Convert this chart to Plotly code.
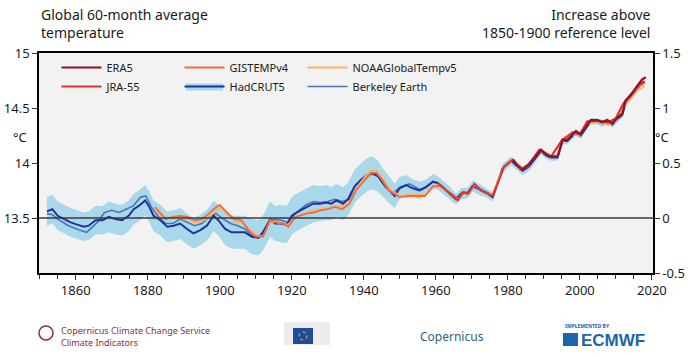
import plotly.graph_objects as go

# ---------------- data (anomaly vs 1850-1900, degC) ----------------
hadcrut_years = [1852, 1853.5, 1855, 1856.7, 1858.6, 1860.4, 1862.3, 1863.6, 1865.5, 1867.4,
                 1869.2, 1871, 1872.9, 1874.7, 1876.1, 1877.5, 1879.3, 1880.3, 1881.6, 1883.5,
                 1885.4, 1887.2, 1889, 1890.9, 1892.7, 1894.6, 1896.4, 1898.3, 1899.6, 1901.5,
                 1903.3, 1905.2, 1907, 1908.9, 1910.7, 1912.1, 1914, 1915.3, 1916.7, 1918.6,
                 1920, 1921.3, 1924.1, 1925.9, 1927.8, 1929.6, 1931, 1932.4, 1934.2, 1935.6,
                 1937.5, 1939.3, 1941.2, 1942.5, 1943.9, 1945.3, 1947.2, 1948.6, 1949.9, 1951.8,
                 1953.6, 1955.5, 1957.3, 1959.2, 1960.5, 1961.9, 1963.8, 1965.6, 1967, 1968.9,
                 1970.2, 1972.1, 1973.9, 1975.8, 1977.2, 1978.5, 1980.9, 1982.3, 1984.1, 1985.9,
                 1987.8, 1989.2, 1990.6, 1991.9, 1993.8, 1995.2, 1996.5, 1997.9, 1998.9, 2000.2,
                 2001.6, 2003, 2004.8, 2006.2, 2007.6, 2009, 2010.4, 2011.8, 2012.7, 2014.5,
                 2015.9, 2017.3, 2018]
hadcrut_vals = [0.06, 0.08, 0.02, -0.01, -0.04, -0.06, -0.08, -0.07, -0.02, -0.02,
                0.01, -0.01, -0.02, 0.02, 0.08, 0.11, 0.16, 0.11, 0.02, -0.02,
                -0.08, -0.07, -0.05, -0.10, -0.14, -0.11, -0.07, 0.02, -0.02, -0.10,
                -0.13, -0.13, -0.13, -0.17, -0.18, -0.13, -0.01, -0.05, -0.05, -0.06,
                0.02, 0.05, 0.10, 0.13, 0.13, 0.14, 0.13, 0.16, 0.13, 0.17,
                0.29, 0.35, 0.40, 0.41, 0.38, 0.32, 0.25, 0.20, 0.27, 0.30,
                0.27, 0.25, 0.28, 0.33, 0.32, 0.28, 0.23, 0.17, 0.22, 0.23,
                0.29, 0.26, 0.23, 0.19, 0.32, 0.45, 0.52, 0.48, 0.43, 0.47,
                0.55, 0.61, 0.57, 0.55, 0.55, 0.70, 0.70, 0.75, 0.78, 0.75,
                0.82, 0.88, 0.88, 0.86, 0.88, 0.85, 0.90, 0.94, 1.05, 1.11,
                1.18, 1.23, 1.24]
hadcrut_unc = [0.13, 0.13, 0.13, 0.13, 0.13, 0.13, 0.13, 0.13, 0.13, 0.13,
               0.14, 0.14, 0.14, 0.14, 0.14, 0.14, 0.14, 0.14, 0.14, 0.14,
               0.14, 0.14, 0.14, 0.14, 0.14, 0.14, 0.14, 0.14, 0.14, 0.15,
               0.15, 0.15, 0.15, 0.16, 0.16, 0.16, 0.16, 0.16, 0.17, 0.17,
               0.17, 0.17, 0.17, 0.17, 0.16, 0.16, 0.15, 0.15, 0.15, 0.15,
               0.15, 0.15, 0.15, 0.15, 0.14, 0.13, 0.12, 0.11, 0.10, 0.09,
               0.08, 0.08, 0.07, 0.07, 0.06, 0.06, 0.06, 0.05, 0.05, 0.05,
               0.05, 0.05, 0.04, 0.04, 0.04, 0.04, 0.04, 0.04, 0.04, 0.04,
               0.03, 0.03, 0.03, 0.03, 0.03, 0.03, 0.03, 0.03, 0.03, 0.03,
               0.03, 0.03, 0.03, 0.03, 0.03, 0.03, 0.03, 0.03, 0.03, 0.03,
               0.03, 0.03, 0.03]

berkeley_years = [1852, 1853.5, 1855, 1858, 1861, 1863, 1866, 1868, 1870, 1872,
                  1874, 1876, 1878, 1879.5, 1881, 1883, 1885, 1887, 1889, 1891,
                  1893, 1895, 1897, 1899, 1901, 1903, 1905, 1907, 1909, 1911,
                  1913, 1915, 1917, 1919, 1921, 1924, 1926, 1928, 1930, 1932,
                  1934, 1936, 1938, 1940, 1942, 1944, 1946, 1948, 1950, 1952.7,
                  1955.5, 1957, 1959.2, 1961, 1963, 1966.1, 1967.5, 1969, 1970.7, 1972.5,
                  1974.4, 1975.8, 1977.6, 1979, 1981.3, 1983.6, 1985.5, 1988.7, 1990.6, 1992,
                  1995, 1998, 2000, 2002, 2005, 2008, 2010, 2012, 2014, 2016, 2018]
berkeley_vals = [0.04, 0.03, -0.01, -0.07, -0.11, -0.13, -0.04, 0.05, 0.07, 0.05,
                 0.08, 0.11, 0.19, 0.20, 0.10, 0.01, -0.05, -0.05, -0.01, -0.04,
                 -0.07, -0.05, 0.01, 0.04, -0.01, -0.05, -0.07, -0.10, -0.16, -0.17,
                 -0.07, -0.01, -0.02, -0.04, 0.04, 0.12, 0.15, 0.14, 0.15, 0.17,
                 0.15, 0.17, 0.27, 0.35, 0.40, 0.38, 0.28, 0.22, 0.28, 0.31,
                 0.26, 0.28, 0.33, 0.31, 0.25, 0.18, 0.24, 0.23, 0.31, 0.26,
                 0.23, 0.21, 0.35, 0.47, 0.53, 0.45, 0.48, 0.62, 0.59, 0.56,
                 0.70, 0.78, 0.77, 0.86, 0.89, 0.87, 0.91, 1.02, 1.12, 1.20, 1.24]

gistemp_years = [1882, 1883.5, 1885, 1887, 1889, 1891, 1893, 1895, 1897, 1899,
                 1900, 1902, 1904, 1906, 1908, 1910, 1912, 1914, 1916, 1918,
                 1919, 1921, 1924, 1926, 1928, 1930, 1932, 1934, 1936, 1938,
                 1940, 1942, 1943.5, 1945, 1947, 1949.9, 1952.7, 1955.5, 1957, 1959.2,
                 1961, 1963, 1966.1, 1967.5, 1969, 1970.7, 1972.5, 1974.4, 1975.8, 1977.6,
                 1979, 1981.3, 1983.6, 1985.5, 1988.7, 1990.6, 1992, 1995, 1998, 2000,
                 2002, 2005, 2008, 2010, 2012, 2014, 2016, 2018]
gistemp_vals = [0.10, 0.04, -0.01, 0.01, 0.02, 0.01, -0.02, -0.01, 0.04, 0.10,
                0.12, 0.05, -0.01, -0.02, -0.11, -0.17, -0.17, -0.02, -0.04, -0.05,
                -0.08, 0.01, 0.04, 0.05, 0.07, 0.08, 0.10, 0.08, 0.13, 0.26,
                0.34, 0.41, 0.41, 0.35, 0.25, 0.19, 0.20, 0.20, 0.20, 0.29,
                0.29, 0.25, 0.17, 0.23, 0.22, 0.30, 0.25, 0.22, 0.21, 0.36,
                0.47, 0.53, 0.45, 0.47, 0.62, 0.59, 0.56, 0.70, 0.77, 0.76,
                0.87, 0.88, 0.86, 0.90, 1.03, 1.11, 1.19, 1.23]

noaa_years = gistemp_years
noaa_vals = [0.07, 0.03, 0.00, 0.00, 0.00, -0.01, -0.04, -0.03, 0.01, 0.07,
             0.10, 0.04, -0.03, -0.04, -0.10, -0.15, -0.17, -0.03, -0.04, -0.05,
             -0.06, 0.01, 0.05, 0.07, 0.08, 0.09, 0.11, 0.10, 0.14, 0.27,
             0.36, 0.43, 0.43, 0.37, 0.27, 0.20, 0.21, 0.21, 0.21, 0.29,
             0.29, 0.25, 0.17, 0.22, 0.22, 0.30, 0.25, 0.22, 0.22, 0.37,
             0.47, 0.53, 0.46, 0.47, 0.61, 0.59, 0.56, 0.69, 0.76, 0.75,
             0.86, 0.87, 0.85, 0.88, 1.00, 1.08, 1.16, 1.20]

jra55_years = [1960.5, 1962.9, 1964.5, 1966.1, 1967.5, 1968.9, 1970.7, 1972.5, 1974.4, 1975.8,
               1977.6, 1979, 1981.3, 1983.6, 1985.5, 1988.7, 1990.6, 1992, 1995, 1998,
               2000, 2002, 2005, 2008, 2010, 2012, 2014, 2016, 2018]
jra55_vals = [0.32, 0.25, 0.21, 0.16, 0.23, 0.22, 0.31, 0.25, 0.22, 0.20,
              0.35, 0.47, 0.53, 0.44, 0.47, 0.62, 0.58, 0.56, 0.71, 0.78,
              0.76, 0.88, 0.88, 0.87, 0.91, 1.04, 1.12, 1.20, 1.24]

era5_years = [1981.5, 1982.3, 1984.1, 1985.9, 1987.8, 1989.2, 1990.6, 1991.9, 1993.8, 1995.2,
              1996.5, 1997.9, 1998.9, 2000.2, 2001.6, 2003, 2004.8, 2006.2, 2007.6, 2009,
              2010.4, 2011.8, 2012.7, 2014.5, 2015.9, 2017.3, 2018.3]
era5_vals = [0.53, 0.49, 0.44, 0.49, 0.56, 0.62, 0.58, 0.56, 0.56, 0.71,
             0.71, 0.76, 0.79, 0.76, 0.83, 0.89, 0.89, 0.87, 0.89, 0.86,
             0.91, 0.95, 1.07, 1.13, 1.20, 1.26, 1.28]

# tick labels
left_tickvals = [0, 0.5, 1, 1.5]
left_ticktext = ["13.5", "14", "14.5", "15"]
right_tickvals = [-0.5, 0, 0.5, 1, 1.5]
right_ticktext = ["-0.5", "0", "0.5", "1", "1.5"]

FONT = "Noto Sans"
TXT = "#1a1a1a"
C_ERA5 = "#8E1428"
C_JRA = "#E3302A"
C_GIS = "#F26B3A"
C_NOAA = "#FDB163"
C_HAD = "#24309A"
C_BAND = "#A9D8EB"
C_BE = "#4A74BA"

upper = [v + u for v, u in zip(hadcrut_vals, hadcrut_unc)]
lower = [v - u for v, u in zip(hadcrut_vals, hadcrut_unc)]

fig = go.Figure()
fig.add_trace(go.Scatter(x=hadcrut_years, y=upper, mode="lines", line=dict(width=0, color=C_BAND),
                         showlegend=False, hoverinfo="skip"))
fig.add_trace(go.Scatter(x=hadcrut_years, y=lower, mode="lines", line=dict(width=0, color=C_BAND),
                         fill="tonexty", fillcolor=C_BAND, showlegend=False, hoverinfo="skip"))

fig.add_trace(go.Scatter(x=berkeley_years, y=berkeley_vals, mode="lines", name="Berkeley Earth",
                         line=dict(color=C_BE, width=1.6), legend="legend3"))
fig.add_trace(go.Scatter(x=hadcrut_years, y=hadcrut_vals, mode="lines", name="HadCRUT5",
                         line=dict(color=C_HAD, width=2), legend="legend2"))
fig.add_trace(go.Scatter(x=noaa_years, y=noaa_vals, mode="lines", name="NOAAGlobalTempv5",
                         line=dict(color=C_NOAA, width=1.8), legend="legend3"))
fig.add_trace(go.Scatter(x=gistemp_years, y=gistemp_vals, mode="lines", name="GISTEMPv4",
                         line=dict(color=C_GIS, width=1.8), legend="legend2"))
fig.add_trace(go.Scatter(x=jra55_years, y=jra55_vals, mode="lines", name="JRA-55",
                         line=dict(color=C_JRA, width=1.8), legend="legend"))
fig.add_trace(go.Scatter(x=era5_years, y=era5_vals, mode="lines", name="ERA5",
                         line=dict(color=C_ERA5, width=2.2), legend="legend"))
# invisible trace so the right-hand axis is rendered
fig.add_trace(go.Scatter(x=hadcrut_years, y=hadcrut_vals, yaxis="y2", mode="lines",
                         opacity=0, showlegend=False, hoverinfo="skip"))


def px(x):
    return (x - 39) / 614


def py(y):
    return (273 - y) / 220


axis_font = dict(family=FONT, size=13, color=TXT)
legend_common = dict(orientation="v", xanchor="left", yanchor="top", y=py(53),
                     bgcolor="rgba(0,0,0,0)", font=dict(family=FONT, size=11, color=TXT),
                     traceorder="reversed", itemwidth=40)
fig.update_layout(
    width=690, height=358, autosize=False,
    margin=dict(l=39, r=37, t=53, b=85, autoexpand=False),
    paper_bgcolor="white", plot_bgcolor="#F2F2F2",
    font=dict(family=FONT, color=TXT),
    xaxis=dict(range=[1849.8, 2020.3], showgrid=False, zeroline=False, automargin=False,
               showline=True, linecolor="black", linewidth=1.5, mirror=True,
               ticks="outside", ticklen=5, tickcolor="#333", tick0=1860, dtick=20,
               tickfont=axis_font,
               minor=dict(ticks="outside", dtick=5, tick0=1850, ticklen=4, tickcolor="#333")),
    yaxis=dict(range=[-0.5, 1.5], showgrid=False, zeroline=False, automargin=False,
               showline=True, linecolor="black", linewidth=1.5,
               ticks="outside", ticklen=5, tickcolor="#333",
               tickvals=left_tickvals, ticktext=left_ticktext, tickfont=axis_font),
    yaxis2=dict(range=[-0.5, 1.5], overlaying="y", side="right", showgrid=False, zeroline=False,
                automargin=False,
                showline=True, linecolor="black", linewidth=1.5,
                ticks="outside", ticklen=5, tickcolor="#333",
                tickvals=right_tickvals, ticktext=right_ticktext, tickfont=axis_font),
    legend=dict(x=px(56.5), **legend_common),
    legend2=dict(x=px(179.5), **legend_common),
    legend3=dict(x=px(302.5), **legend_common),
    showlegend=True,
)

# light-blue swatch behind the HadCRUT5 legend line (uncertainty band)
fig.add_shape(type="rect", xref="paper", yref="paper", x0=px(186), x1=px(223), y0=py(90.5), y1=py(83.5),
              line=dict(width=0), fillcolor=C_BAND, layer="below")

# zero reference line
fig.add_shape(type="line", xref="paper", x0=0, x1=1, yref="y", y0=0, y1=0,
              line=dict(color="#3a3a3a", width=1.5), layer="above")

# titles
fig.add_annotation(xref="paper", yref="paper", x=0, y=1.225, xanchor="left", yanchor="top",
                   align="left", showarrow=False,
                   text="Global 60-month average<br>temperature",
                   font=dict(family=FONT, size=14, color=TXT))
fig.add_annotation(xref="paper", yref="paper", x=1, y=1.225, xanchor="right", yanchor="top",
                   align="right", showarrow=False,
                   text="Increase above<br>1850-1900 reference level",
                   font=dict(family=FONT, size=14, color=TXT))
fig.add_annotation(xref="paper", yref="paper", x=-0.045, y=0.62, showarrow=False,
                   text="°C", font=dict(family=FONT, size=13, color=TXT))
fig.add_annotation(xref="paper", yref="paper", x=1.03, y=0.62, showarrow=False,
                   text="°C", font=dict(family=FONT, size=13, color=TXT))

# ---- footer logos (approximate) ----
# C3S
fig.add_shape(type="circle", xref="paper", yref="paper", x0=px(39), x1=px(53), y0=py(340), y1=py(326),
              line=dict(color="#8E2C48", width=1.5))
fig.add_annotation(xref="paper", yref="paper", x=px(59), y=py(336), xanchor="left", yanchor="middle",
                   align="left", showarrow=False,
                   text="Copernicus Climate Change Service<br>Climate Indicators",
                   font=dict(family=FONT, size=9, color="#8E2C48"))
# EU
fig.add_shape(type="rect", xref="paper", yref="paper", x0=px(284), x1=px(330), y0=py(345), y1=py(322),
              line=dict(width=0), fillcolor="#ECECEC")
fig.add_shape(type="rect", xref="paper", yref="paper", x0=px(293), x1=px(313), y0=py(344), y1=py(328),
              line=dict(width=0), fillcolor="#1F4C9E")
fig.add_shape(type="circle", xref="paper", yref="paper", x0=px(299), x1=px(307), y0=py(340), y1=py(332),
              line=dict(color="#F5D400", width=1, dash="dot"))
# Copernicus
fig.add_annotation(xref="paper", yref="paper", x=px(418), y=py(336), xanchor="left", yanchor="middle",
                   showarrow=False, text="Copernicus",
                   font=dict(family=FONT, size=12, color="#2F5F87"))
# ECMWF
fig.add_annotation(xref="paper", yref="paper", x=px(563), y=py(326), xanchor="left", yanchor="middle",
                   showarrow=False, text="<b>IMPLEMENTED BY</b>",
                   font=dict(family=FONT, size=5, color="#1B65AD"))
fig.add_shape(type="rect", xref="paper", yref="paper", x0=px(563), x1=px(578), y0=py(346), y1=py(333),
              line=dict(width=0), fillcolor="#1B65AD")
fig.add_annotation(xref="paper", yref="paper", x=px(579), y=py(340), xanchor="left", yanchor="middle",
                   showarrow=False, text="<b>ECMWF</b>",
                   font=dict(family="Liberation Sans", size=17, color="#1B65AD"))

fig.write_html("out.html", config={"displayModeBar": False},
               post_script="document.body.style.margin='0';")
